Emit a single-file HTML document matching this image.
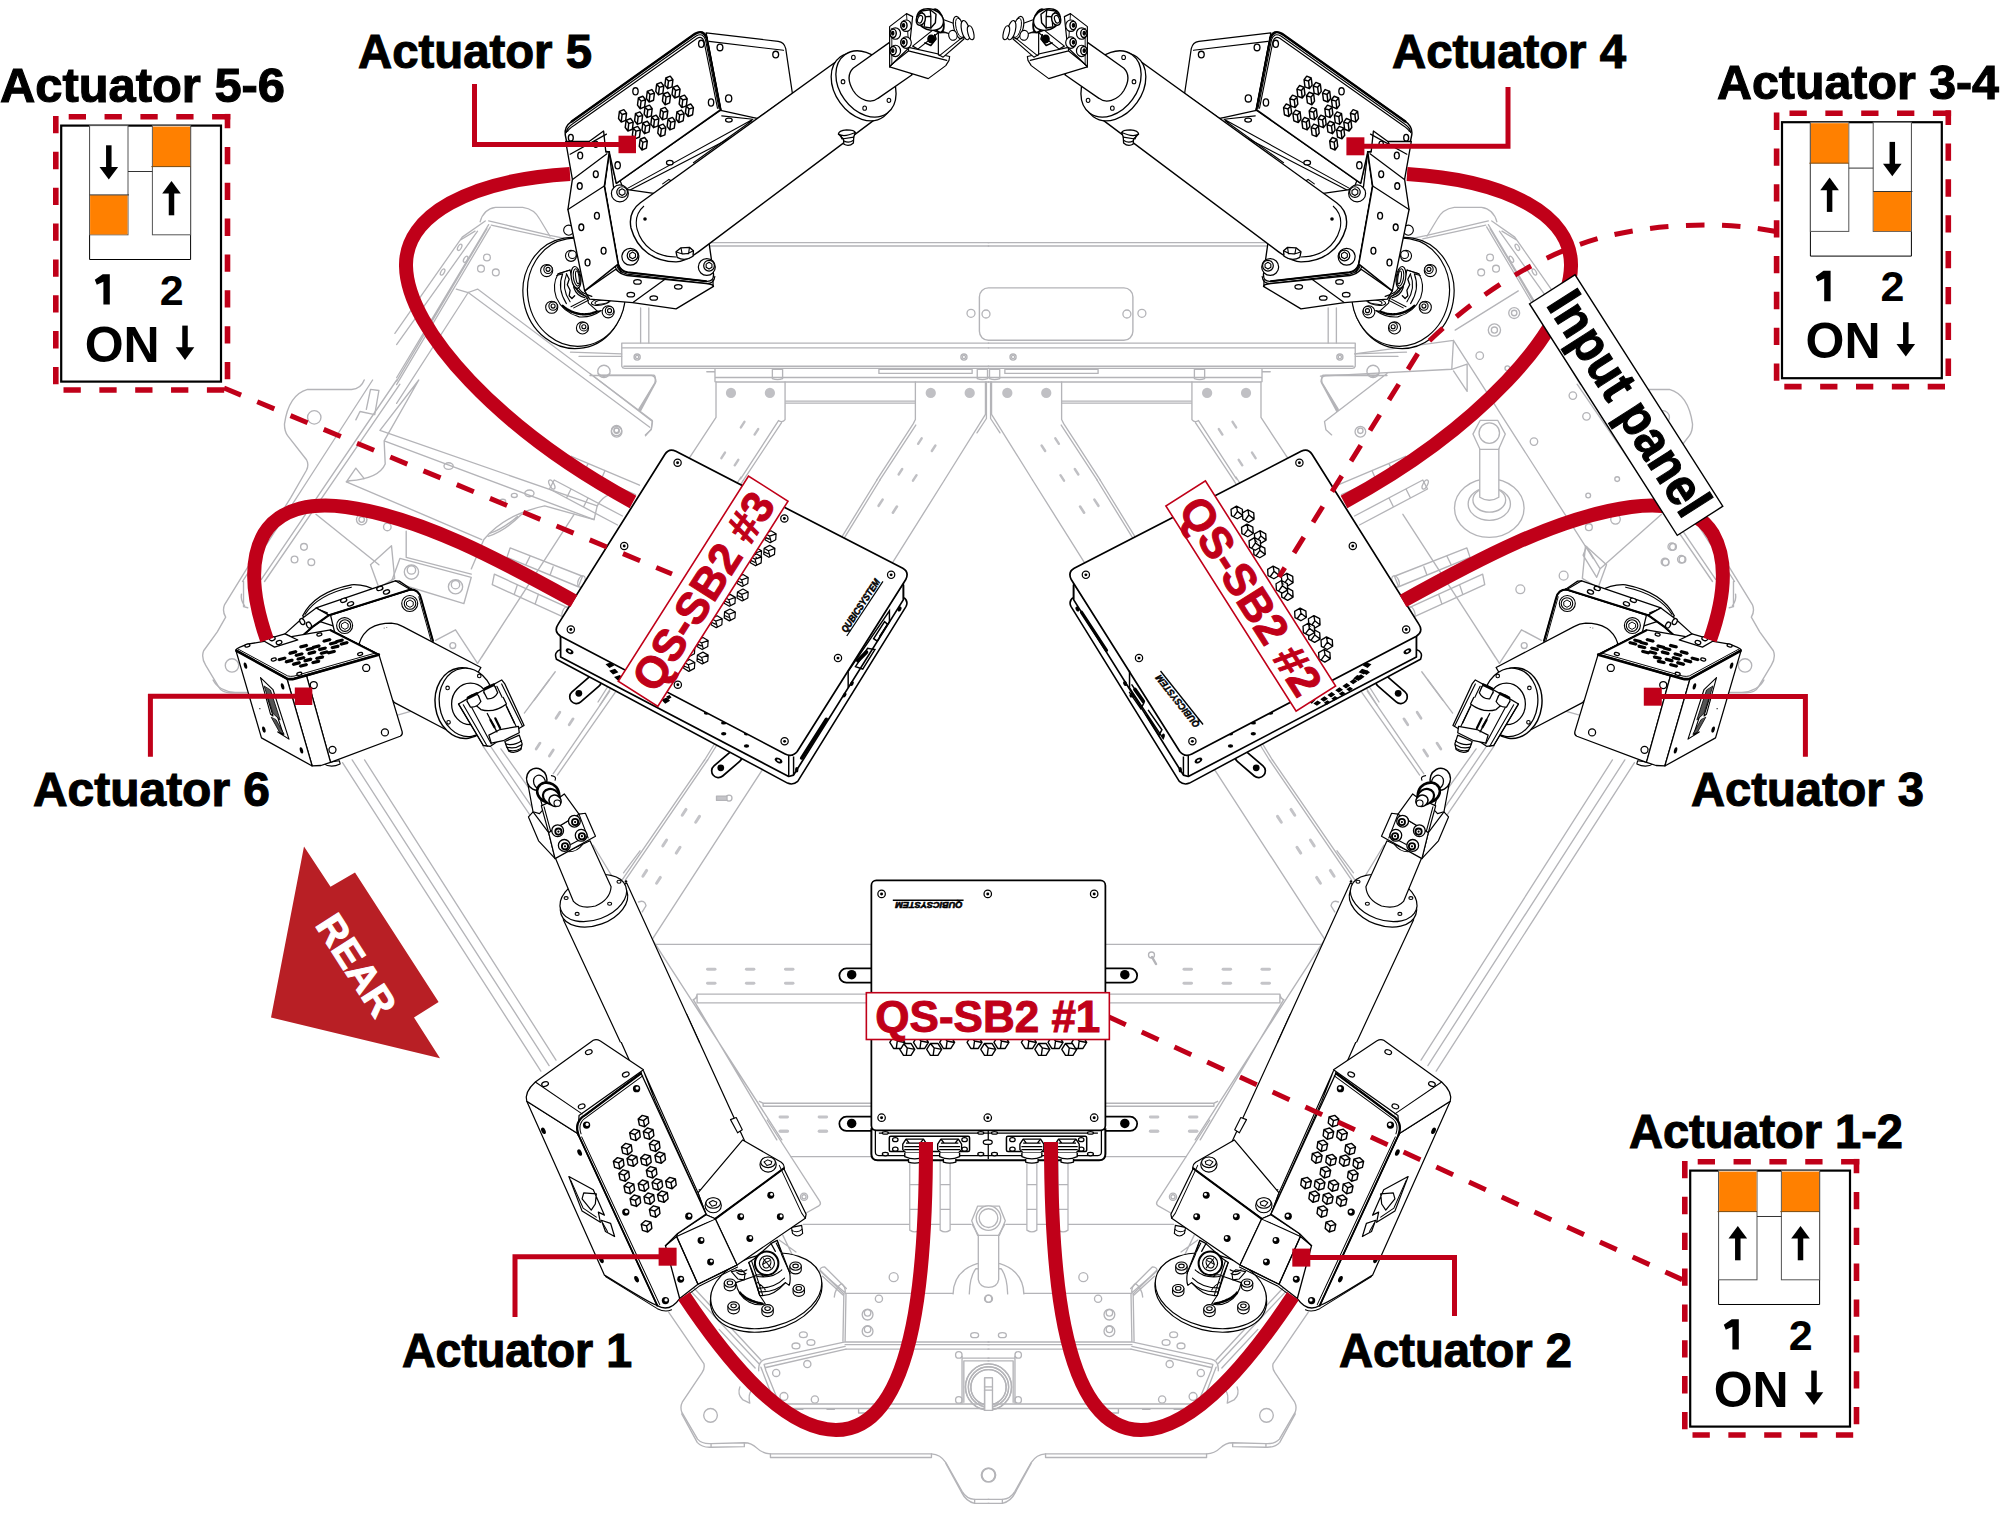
<!DOCTYPE html>
<html><head><meta charset="utf-8"><title>Actuator wiring</title>
<style>
html,body{margin:0;padding:0;background:#fff;}
body{width:2001px;height:1525px;overflow:hidden;}
svg{display:block;}
text{font-family:"Liberation Sans",sans-serif;}
.k{fill:#fff;stroke:#000;stroke-width:1.3;stroke-linejoin:round;stroke-linecap:round;}
.kn{fill:none;stroke:#000;stroke-width:1.2;stroke-linejoin:round;stroke-linecap:round;}
.kt{fill:none;stroke:#000;stroke-width:0.9;stroke-linejoin:round;stroke-linecap:round;}
.kb{fill:#fff;stroke:#000;stroke-width:2;stroke-linejoin:round;}
.g{fill:none;stroke:#b4b4b8;stroke-width:1.4;stroke-linejoin:round;stroke-linecap:round;}
.gf{fill:#fff;stroke:#b4b4b8;stroke-width:1.4;stroke-linejoin:round;stroke-linecap:round;}
.gd{fill:#b9b9bd;stroke:none;}
.cab{fill:none;stroke:#c00019;stroke-width:14;}
.dash{fill:none;stroke:#c00019;stroke-width:5;stroke-dasharray:18.5 17.5;}
.lead{fill:none;stroke:#c00019;stroke-width:5;stroke-linejoin:miter;}
.r{fill:#c00019;}
.lab{font-weight:bold;fill:#000;stroke:#000;stroke-width:1.1;}
.qs{font-weight:bold;fill:#c00019;stroke:#c00019;stroke-width:1;}
</style></head><body>
<svg width="2001" height="1525" viewBox="0 0 2001 1525">
<rect width="2001" height="1525" fill="#fff"/>
<!-- frame -->
<g id="frameL" class="g">
<!-- tile: bottom-left (640,1270) scale 1/5.558 -->
<g transform="translate(640,1270) scale(0.17991)" stroke-width="7.5">
<path d="M160,235 L355,520 Q362,545 345,570 L235,735 Q222,760 232,790 L320,940 Q345,968 395,965 L580,960 Q620,960 650,990 Q680,1020 725,1022 L1620,1022 Q1670,1025 1700,1070 L1790,1230 Q1815,1272 1860,1275 L1940,1275"/>
<path d="M232,800 L318,958 Q345,988 395,985 L580,982 M395,965 V985 M580,960 V982 M725,1022 V1042 H1620 V1022 M1860,1275 V1297 H1940 M1700,1075 L1790,1240 Q1812,1285 1860,1297"/>
<circle cx="392" cy="808" r="38"/><circle cx="1935" cy="1140" r="38"/>
<path d="M285,120 L660,520 M300,100 L672,500 M440,330 L640,545"/>
<path d="M660,560 Q655,505 700,495 L1140,400 L1145,130 H1940 M1133,135 L1128,395 M1140,400 H1940 M1140,415 H1940 M1145,440 H1940"/>
<path d="M690,525 L1140,425 M700,542 L1145,440 M690,525 L700,560 L775,745 H1940 M672,540 L745,730 Q760,755 800,752 M775,770 H1940 M860,775 H905 M1040,775 H1080 M1215,775 V795 H1260"/>
<path d="M1790,480 V740 M1790,490 H1940 M1800,505 H1940 M1800,505 V735"/>
<circle cx="1937" cy="650" r="128"/><circle cx="1937" cy="650" r="112"/><circle cx="1937" cy="652" r="98"/>
<path d="M1915,600 H1958 V780 H1915Z" fill="#fff"/><path d="M1915,650 H1958 M1915,668 H1958"/>
<circle cx="1410" cy="40" r="25"/><ellipse cx="908" cy="360" rx="22" ry="16"/><ellipse cx="867" cy="422" rx="22" ry="16"/><ellipse cx="950" cy="403" rx="22" ry="16"/>
<circle cx="1265" cy="248" r="30"/><circle cx="1265" cy="238" r="18"/><circle cx="1265" cy="340" r="30"/><circle cx="1265" cy="330" r="18"/>
<circle cx="1328" cy="160" r="20"/><circle cx="1935" cy="160" r="20"/><ellipse cx="1860" cy="362" rx="22" ry="14"/>
<circle cx="930" cy="523" r="20"/><circle cx="757" cy="572" r="20"/><circle cx="800" cy="703" r="22"/><circle cx="972" cy="720" r="20"/><circle cx="1772" cy="472" r="18"/><circle cx="1772" cy="722" r="18"/>
<path d="M1000,5 L1145,130 M1015,35 L1130,140 M1080,150 Q1085,100 1120,75 Q1145,95 1140,130"/>
<path d="M555,650 Q540,690 570,720 L610,740 Q600,690 620,670"/>
</g>

<!-- tile: (760,1120) scale 1/8.3375 : beams under box1 -->
<g transform="translate(760,1120) scale(0.11994)" stroke-width="11">
<path d="M255,305 H925 M360,870 H1760"/>
<path d="M60,0 L500,680 Q512,702 490,716 L385,775"/>
<circle cx="367" cy="640" r="30"/><circle cx="367" cy="640" r="17"/>
<path d="M500,1250 L700,1450 M540,1225 L720,1405 M500,1250 Q505,1225 540,1225"/>
<path d="M190,960 L330,1250 M160,1000 L300,1100"/>
</g>
<g transform="translate(760,1120) scale(0.11994)" fill="#c4c4c8" stroke="none"><rect x="160" y="82" width="80" height="22" rx="10"/><rect x="485" y="82" width="80" height="22" rx="10"/></g>

<!-- tile: (580,760) scale 1/4.0143 : diagonal band + horizontal beams left of box1 -->
<g transform="translate(580,760) scale(0.24911)" stroke-width="5.5">
<path d="M170,480 L500,0 M182,482 L512,0 M290,720 L735,35"/>
<path d="M295,740 H1170"/>
<path d="M455,962 Q468,958 470,940 H1150 M470,975 H1150 M470,940 V975"/>
<path d="M290,720 L810,1525 M455,962 L790,1525"/>
<path d="M720,1370 Q733,1376 735,1378 H1170 M735,1390 H1170 M735,1378 V1390"/>
<path d="M235,570 Q260,560 265,585 L250,610"/>

</g>
<g transform="translate(580,760) scale(0.24911)" fill="#c4c4c8" stroke="none">
<rect x="506" y="834" width="42" height="12" rx="6"/><rect x="662" y="834" width="42" height="12" rx="6"/><rect x="819" y="834" width="42" height="12" rx="6"/>
<rect x="506" y="890" width="42" height="12" rx="6"/><rect x="662" y="890" width="42" height="12" rx="6"/><rect x="819" y="890" width="42" height="12" rx="6"/>
<rect x="797" y="1427" width="42" height="12" rx="6"/><rect x="954" y="1427" width="42" height="12" rx="6"/><rect x="797" y="1484" width="42" height="12" rx="6"/><rect x="954" y="1484" width="42" height="12" rx="6"/>
<g transform="rotate(-57 418 210)"><rect x="398" y="204" width="40" height="12" rx="6"/></g><g transform="rotate(-57 472 238)"><rect x="452" y="232" width="40" height="12" rx="6"/></g>
<g transform="rotate(-57 340 333)"><rect x="320" y="327" width="40" height="12" rx="6"/></g><g transform="rotate(-57 394 362)"><rect x="374" y="356" width="40" height="12" rx="6"/></g>
<g transform="rotate(-57 260 455)"><rect x="240" y="449" width="40" height="12" rx="6"/></g><g transform="rotate(-57 315 483)"><rect x="295" y="477" width="40" height="12" rx="6"/></g>
</g>

<!-- tile: (190,380) scale 1/4.764 : left rail region (mirrored part) -->
<g transform="translate(190,380) scale(0.2099)" stroke-width="6.5">
<path d="M830,0 Q815,42 770,45 L560,45 Q470,70 450,210 Q450,245 465,265 L555,380 Q568,402 555,430 L480,560 L245,940 L165,1070 Q152,1100 170,1130 L130,1200 L65,1290 Q52,1322 75,1360 L135,1460 Q152,1492 200,1490 L280,1490"/>
<circle cx="592" cy="178" r="32"/><circle cx="200" cy="1360" r="32"/>
<path d="M985,0 L340,950 M1000,20 L355,960 M870,0 L560,480 L250,960"/>
<path d="M1830,640 L1370,1350 M1590,1010 L1390,1320 M1740,1390 L1640,1525"/>
<path d="M1525,800 L1870,935 L1850,985 L1510,845 Z M1450,925 L1800,1085 L1780,1130 L1440,975 Z M1620,840 L1600,880 M1730,890 L1715,930 M1560,975 L1545,1020 M1660,1020 L1645,1065"/>
<ellipse cx="1865" cy="960" rx="16" ry="28" transform="rotate(20 1865 960)"/><ellipse cx="1790" cy="1108" rx="16" ry="28" transform="rotate(20 1790 1108)"/>
<path d="M1170,1240 L1265,1190 L1370,1350"/>
<circle cx="543" cy="795" r="16"/><circle cx="498" cy="855" r="16"/><circle cx="578" cy="868" r="16"/>
<circle cx="1252" cy="1265" r="14"/>
<path d="M255,960 V1080 L275,1085 M245,1020 Q240,1050 260,1075"/>
<path d="M860,880 L960,790 L975,945 L900,990 Z M860,880 L900,990"/>
</g>

<!-- tile: (590,230) scale 1/4.8805 : top beam & hanging plates -->
<g transform="translate(590,230) scale(0.2049)" stroke-width="6.5">
<path d="M580,62 H1946 M580,78 H1946"/>
<path d="M247,380 V552 M287,380 V552"/>
<path d="M1946,552 H155 V665 Q158,675 170,675 H1946 M155,575 H1946 M165,665 H1946"/>
<circle cx="230" cy="620" r="15"/><circle cx="1825" cy="620" r="15"/><circle cx="230" cy="620" r="8"/><circle cx="1825" cy="620" r="8"/>
<path d="M610,678 V740 M570,692 H610 M615,720 H1946 M615,742 H1946"/>
<path d="M0,710 H300 Q320,712 322,740 L240,880 M0,700 L305,935 L298,975 L270,1000 M320,745 L245,885"/>
<path d="M615,742 V915 L490,1105 M952,742 V925 Q940,942 920,930 L735,1215 M935,940 L748,1222"/>
<path d="M955,835 H1588 M955,845 H1588"/>
<path d="M1588,742 V925 L1578,945 L1400,1220 M1590,952 L1415,1220 M1930,742 V900 L1730,1220 M1955,742 V920 L2001,990"/>
<path d="M1410,680 H1865 V700 H1410Z"/>
<circle cx="68" cy="690" r="30"/><path d="M40,700 Q68,730 96,700"/>
<path d="M890,680 H940 V725 Q915,735 890,725Z M1890,680 H1940 V725 Q1915,735 1890,725Z"/>
<circle cx="130" cy="985" r="26"/><circle cx="130" cy="980" r="13"/>
</g>
<g transform="translate(590,230) scale(0.2049)" fill="#c0c0c4" stroke="none">
<circle cx="688" cy="795" r="25"/><circle cx="878" cy="795" r="25"/><circle cx="1663" cy="795" r="25"/><circle cx="1853" cy="795" r="25"/>
<g transform="rotate(-57 745 950)"><rect x="723" y="944" width="44" height="12" rx="6"/></g><g transform="rotate(-57 812 985)"><rect x="790" y="979" width="44" height="12" rx="6"/></g>
<g transform="rotate(-57 650 1100)"><rect x="628" y="1094" width="44" height="12" rx="6"/></g><g transform="rotate(-57 715 1135)"><rect x="693" y="1129" width="44" height="12" rx="6"/></g>
<g transform="rotate(-57 1610 1030)"><rect x="1588" y="1024" width="44" height="12" rx="6"/></g><g transform="rotate(-57 1677 1065)"><rect x="1655" y="1059" width="44" height="12" rx="6"/></g>
<g transform="rotate(-57 1515 1180)"><rect x="1493" y="1174" width="44" height="12" rx="6"/></g><g transform="rotate(-57 1585 1210)"><rect x="1563" y="1204" width="44" height="12" rx="6"/></g>
</g>

<!-- tile: (180,680) scale 1/3.6304 : lower-left rails -->
<g transform="translate(180,680) scale(0.27545)" stroke-width="4.8">
<path d="M590,300 L1310,1420 M625,290 L1340,1400 M670,290 L1365,1380"/>
<path d="M1100,240 L1270,490 M1130,245 L1290,480 M1165,250 L1300,440"/>
<path d="M1250,120 L1340,0 M1355,340 L1560,40 M1370,345 L1580,45"/>
<path d="M1500,600 L1670,880 M1610,700 L1670,620"/>
<path d="M780,130 L850,110 M120,0 Q140,40 200,45 L250,45"/>
</g>
<g transform="translate(180,680) scale(0.27545)" fill="#c0c0c4" stroke="none">
<g transform="rotate(-57 1372 128)"><rect x="1354" y="123" width="36" height="10" rx="5"/></g><g transform="rotate(-57 1420 152)"><rect x="1402" y="147" width="36" height="10" rx="5"/></g>
<g transform="rotate(-57 1300 240)"><rect x="1282" y="235" width="36" height="10" rx="5"/></g><g transform="rotate(-57 1348 265)"><rect x="1330" y="260" width="36" height="10" rx="5"/></g>
</g>

<!-- band continuations between top plates and lower area (px coords) -->
<g stroke-width="1.35">
<path d="M876.9,480 L704.6,760 M880,480 L707.6,760 M944.5,480 L763,768.7"/>
<path d="M690.4,456.4 L560,660 M743.3,480.4 L600,705 M741,477 L598,702"/>
</g>
<g fill="#c0c0c4" stroke="none"><g transform="rotate(-57 880.6 502.7)"><rect x="875.6" y="501.4" width="10" height="2.6" rx="1.3"/></g><g transform="rotate(-57 894.9 509.6)"><rect x="889.9" y="508.3" width="10" height="2.6" rx="1.3"/></g></g>

<!-- tile: (400,180) scale 1/5.8656 : top-left corner near actuator 5 (mirrored part) -->
<g transform="translate(400,180) scale(0.17049)" stroke-width="7.5">
<path d="M470,245 Q490,170 560,160 L720,160 Q790,170 820,230 L880,330"/>
<path d="M520,240 L880,325 L1000,350 M535,265 L905,345"/>
<path d="M500,240 L365,335 L-30,900 M520,262 L-20,1160 M530,275 L-20,1200 M510,285 L-20,1180 M455,300 L-20,965 M440,300 L355,352"/>
<circle cx="510" cy="455" r="20"/><circle cx="475" cy="520" r="20"/><circle cx="562" cy="542" r="20"/>
<path d="M1000,1010 L1300,1020 M1050,1035 H1300"/>
<path d="M1165,1145 H1490 Q1502,1150 1495,1190 L1400,1345"/>
<ellipse cx="350" cy="395" rx="10" ry="20" transform="rotate(30 350 395)"/><ellipse cx="385" cy="465" rx="10" ry="20" transform="rotate(30 385 465)"/><ellipse cx="250" cy="540" rx="10" ry="20" transform="rotate(30 250 540)"/>
</g>

<!-- cable stubs near cable A end (px coords) -->
<g stroke-width="1.35">
<path d="M639.5,485.2 L571.3,456.3 L567.5,465.5 L635.5,494.5 M622.4,516 L554.2,480 L549.5,489 L617.5,525 M605,470.5 L601,480 M588,463.5 L584,473 M588,498 L583.5,507 M571,489 L566.5,498"/>
<ellipse cx="569.4" cy="461" rx="2.2" ry="5" transform="rotate(-23 569.4 461)"/><ellipse cx="551.8" cy="484.5" rx="2.2" ry="5" transform="rotate(-28 551.8 484.5)"/>
</g>

</g>
<use href="#frameL" transform="translate(1977 0) scale(-1 1)"/>
<g class="g">
<!-- center leveling foot, tile (760,1120) scale 1/8.3375; center x z=1905 -->
<g transform="translate(760,1120) scale(0.11994)" stroke-width="11" fill="#fff">
<path d="M1610,1450 Q1615,1260 1810,1198 H2000 Q2195,1260 2200,1450"/>
<path d="M1745,1450 Q1750,1300 1800,1240 H2010 Q2060,1300 2065,1450"/>
<path d="M1820,950 V1330 Q1830,1392 1905,1395 Q1980,1392 1990,1330 V950Z"/>
<path d="M1765,840 L1815,718 L1995,718 L2045,840 L1995,962 L1815,962Z"/>
<path d="M1770,870 L1820,960 M2040,870 L1990,960" fill="none"/>
<circle cx="1905" cy="818" r="102"/><circle cx="1905" cy="818" r="78"/>
</g>

<!-- top center rounded rect plate (not symmetric) -->
<rect x="979.4" y="287.9" width="153.5" height="52.4" rx="9" stroke-width="1.4"/>
<circle cx="971" cy="313.3" r="4" stroke-width="1.3"/><circle cx="986" cy="314" r="4" stroke-width="1.3"/><circle cx="1126.9" cy="314" r="4" stroke-width="1.3"/><circle cx="1141.9" cy="313.3" r="4" stroke-width="1.3"/>

<!-- LEFT ONLY: bracket box etc. tile (190,380) scale 1/4.764 -->
<g transform="translate(190,380) scale(0.2099)" stroke-width="6.5">
<path d="M1090,0 L905,240 L1940,600 L1925,665 L925,290 Z M925,290 L930,400 Q900,470 760,480 L745,485 L790,420 L830,470"/>
<path d="M745,485 L1390,760 M1940,600 Q1960,560 2001,545 M1925,665 L1690,600 Q1500,640 1400,760 L1340,900"/>
<path d="M1580,640 Q1500,720 1420,745 M1560,650 Q1490,710 1430,730"/>
<path d="M600,640 L900,880 M1030,720 V845 M1000,850 L1340,940 L1305,1065 L960,960 Z M1030,845 L1340,925"/>
<circle cx="1055" cy="915" r="34"/><circle cx="1055" cy="905" r="20"/><circle cx="1265" cy="985" r="34"/><circle cx="1265" cy="975" r="20"/>
<circle cx="818" cy="665" r="25"/><circle cx="818" cy="665" r="13"/><circle cx="940" cy="700" r="18"/>
<ellipse cx="1232" cy="410" rx="22" ry="16"/><ellipse cx="1617" cy="540" rx="22" ry="16"/><ellipse cx="1545" cy="550" rx="14" ry="10"/><ellipse cx="1490" cy="578" rx="14" ry="10"/>
<path d="M790,190 L810,150 L880,165 L900,50 L860,45 L840,140"/>
</g>
<!-- LEFT ONLY: tile (400,180) scale 1/5.8656 -->
<g transform="translate(400,180) scale(0.17049)" stroke-width="7.5">
<path d="M455,640 L1480,1410 L1475,1460 L1440,1500 M400,660 L1465,1450 M400,660 L-20,1310 M455,640 L400,660 M330,640 L400,660"/>
<circle cx="1270" cy="1470" r="30"/><circle cx="1270" cy="1468" r="14"/>
</g>
<!-- RIGHT ONLY: tile (1300,180) scale 1/2.932 : foot + plate lines -->
<g transform="translate(1300,180) scale(0.34106)" stroke-width="3.9">
<path d="M450,470 L860,1110 M455,440 L640,325 M60,575 L445,555 L450,470 L160,510 M445,555 L490,540 L490,620 L450,560"/>
<path d="M840,1075 L880,1140 L870,1165 L830,1100Z M880,1140 L1060,980"/>
<g fill="#fff">
<ellipse cx="555" cy="962" rx="102" ry="86"/><ellipse cx="555" cy="950" rx="62" ry="48"/><ellipse cx="555" cy="938" rx="48" ry="36"/>
<path d="M527,785 V930 Q555,948 583,930 V785Z"/>
<path d="M507,745 L528,705 L580,705 L602,745 L582,790 L528,790Z"/><circle cx="555" cy="742" r="30"/>
</g>
<circle cx="628" cy="390" r="16"/><circle cx="628" cy="390" r="8"/><circle cx="570" cy="440" r="18"/><circle cx="570" cy="440" r="9"/><circle cx="527" cy="515" r="11"/><circle cx="800" cy="632" r="11"/><circle cx="840" cy="693" r="11"/><circle cx="686" cy="767" r="11"/>
<circle cx="925" cy="995" r="14"/><circle cx="847" cy="1018" r="10"/><circle cx="1090" cy="1075" r="11"/><circle cx="1070" cy="1120" r="11"/><circle cx="1118" cy="1112" r="11"/><circle cx="773" cy="1160" r="13"/><circle cx="646" cy="1200" r="13"/>
<circle cx="930" cy="877" r="7"/><circle cx="845" cy="925" r="7"/><circle cx="608" cy="552" r="7"/>
</g>
<!-- keyholes -->
<g stroke-width="1.3"><circle cx="729" cy="798.1" r="3"/><path d="M716.5,796.1 H727 V800.4 H716.5Z" fill="#c4c4c8"/>
<circle cx="1151.5" cy="955" r="3"/><path d="M1152,957 L1156,964" stroke-width="2.5"/></g>

</g>

<!-- boxes -->
<g id="box3">
<g transform="translate(540,430) scale(0.24266)" style="vector-effect:non-scaling-stroke">
<!-- mounting ears -->
<g fill="none" stroke-linecap="round">
<path d="M225,1035 L150,1100" stroke="#000" stroke-width="62"/><path d="M225,1035 L150,1100" stroke="#fff" stroke-width="48"/>
<path d="M805,1345 L735,1405" stroke="#000" stroke-width="62"/><path d="M805,1345 L735,1405" stroke="#fff" stroke-width="48"/>
</g>
<circle cx="160" cy="1085" r="14" fill="#000"/><circle cx="745" cy="1392" r="14" fill="#000"/>
<!-- flange / base plate -->
<path d="M85,905 Q55,915 68,945 L1020,1455 Q1042,1465 1062,1448 L1508,728 Q1520,705 1498,690 L1498,640 L85,850 Z" fill="#fff" stroke="#000" stroke-width="6.5" stroke-linejoin="round"/>
<!-- walls -->
<path d="M85,845 L85,935 L1025,1428 L1045,1422 L1497,700 L1497,630 L1040,1340 Z" fill="#fff" stroke="#000" stroke-width="7" stroke-linejoin="round"/>
<path d="M1025,1340 V1428 M1045,1345 V1422" fill="none" stroke="#000" stroke-width="6"/>
<!-- side details, left wall -->
<g fill="#000">
<ellipse cx="122" cy="912" rx="17" ry="10" transform="rotate(27 122 912)"/><ellipse cx="983" cy="1362" rx="17" ry="10" transform="rotate(27 983 1362)"/>
<ellipse cx="686" cy="1166" rx="11" ry="7"/><ellipse cx="757" cy="1207" rx="11" ry="7"/><ellipse cx="757" cy="1252" rx="11" ry="7"/><ellipse cx="851" cy="1252" rx="11" ry="7"/><ellipse cx="851" cy="1302" rx="11" ry="7"/>
<path d="M270,965 l22,-8 l14,14 l-20,10z M285,992 l24,-8 l14,14 l-22,10z M305,1018 l24,-8 l16,14 l-22,10z M500,1112 l22,-10 l14,14 l-20,12z M520,1098 l14,-6 l8,10 l-12,8z"/>
</g>
<ellipse cx="122" cy="912" rx="7" ry="4" fill="#fff" transform="rotate(27 122 912)"/><ellipse cx="983" cy="1362" rx="7" ry="4" fill="#fff" transform="rotate(27 983 1362)"/>
<g fill="#000"><ellipse cx="1058" cy="1400" rx="7" ry="11"/><ellipse cx="1255" cy="1092" rx="7" ry="11" transform="rotate(30 1255 1092)"/><ellipse cx="1285" cy="1045" rx="7" ry="11" transform="rotate(30 1285 1045)"/><ellipse cx="1482" cy="738" rx="7" ry="11" transform="rotate(30 1482 738)"/></g>
<!-- top plate -->
<path d="M75,800 L515,100 Q532,73 560,88 L1495,570 Q1522,585 1508,615 L1060,1325 Q1040,1350 1010,1335 L85,850 Q55,830 75,800 Z" fill="#fff" stroke="#000" stroke-width="7" stroke-linejoin="round"/>
<!-- screws -->
<g fill="#fff" stroke="#000" stroke-width="5"><circle cx="567" cy="135" r="15"/><circle cx="1007" cy="365" r="15"/><circle cx="1447" cy="597" r="15"/><circle cx="347" cy="478" r="15"/><circle cx="1228" cy="940" r="15"/><circle cx="127" cy="822" r="15"/><circle cx="568" cy="1050" r="15"/><circle cx="1008" cy="1283" r="15"/></g>
<g fill="#000"><circle cx="567" cy="135" r="6"/><circle cx="1007" cy="365" r="6"/><circle cx="1447" cy="597" r="6"/><circle cx="347" cy="478" r="6"/><circle cx="1228" cy="940" r="6"/><circle cx="127" cy="822" r="6"/><circle cx="568" cy="1050" r="6"/><circle cx="1008" cy="1283" r="6"/></g>
</g>
</g>
<use href="#box3" transform="translate(1977 0) scale(-1 1)"/>
<g transform="translate(540,430) scale(0.24266)">
<!-- right wall details -->
<g fill="none" stroke="#000" stroke-width="6" stroke-linecap="round">
<path d="M1078,1352 L1180,1192" stroke-width="14"/>
<path d="M1270,1060 V995 L1440,745 V790 L1400,850"/>
<path d="M1300,975 L1350,900 L1380,905 L1330,985 Z M1375,860 L1420,790 L1432,800 L1390,870Z"/>
<path d="M1310,950 L1345,915" stroke-width="16"/>
</g>
<!-- hex vents -->
<g id="hx3" fill="#fff" stroke="#000" stroke-width="5" stroke-linejoin="round">
<path id="hxa" d="M-26,0 L-13,-21 L13,-21 L26,0 L13,21 L-13,21Z M-13,-21 L-2,-4 L26,0 M-2,-4 L-8,21 M-20,-8 L-8,8" transform="translate(950,440) rotate(-28)"/>
<use href="#hxa" x="0" y="0" transform="translate(-5,60)"/>
<use href="#hxa" transform="translate(-60,70)"/><use href="#hxa" transform="translate(-60,95)"/>
<use href="#hxa" transform="translate(-115,180)"/><use href="#hxa" transform="translate(-115,240)"/>
<use href="#hxa" transform="translate(-168,262)"/><use href="#hxa" transform="translate(-168,322)"/>
<use href="#hxa" transform="translate(-222,350)"/><use href="#hxa" transform="translate(-280,440)"/><use href="#hxa" transform="translate(-280,500)"/>
<use href="#hxa" transform="translate(-335,530)"/><use href="#hxa" transform="translate(-335,470)"/>
</g>
<!-- logo -->
<g transform="translate(1262,838) rotate(-56.5)"><text x="0" y="0" font-size="40" font-weight="bold" font-style="italic" fill="#000" stroke="#000" stroke-width="2.2" textLength="255" lengthAdjust="spacingAndGlyphs">QUBICSYSTEM</text><path d="M-8,8 H262" stroke="#000" stroke-width="5"/></g>
</g>
<!-- box #2 extras: zoom (1000,400) scale 1/3.335 -->
<g transform="translate(1000,400) scale(0.29985)">
<g fill="#fff" stroke="#000" stroke-width="4.5" stroke-linejoin="round">
<path id="hxc" d="M-22,0 L-11,-18 L11,-18 L22,0 L11,18 L-11,18Z M-11,-18 L0,-4 L22,0 M0,-4 L-3,18" transform="translate(790,375) rotate(28)"/>
<use href="#hxc" transform="translate(38,12)"/><use href="#hxc" transform="translate(35,60)"/><use href="#hxc" transform="translate(78,82)"/>
<use href="#hxc" transform="translate(75,130)"/><use href="#hxc" transform="translate(60,105)"/>
<use href="#hxc" transform="translate(122,200)"/><use href="#hxc" transform="translate(168,224)"/><use href="#hxc" transform="translate(168,272)"/><use href="#hxc" transform="translate(150,248)"/>
<use href="#hxc" transform="translate(212,340)"/><use href="#hxc" transform="translate(258,365)"/><use href="#hxc" transform="translate(258,412)"/><use href="#hxc" transform="translate(300,436)"/><use href="#hxc" transform="translate(292,478)"/><use href="#hxc" transform="translate(240,390)"/>
</g>
<g transform="translate(668,1082) rotate(231.5)"><text x="0" y="0" font-size="32" font-weight="bold" font-style="italic" fill="#000" stroke="#000" stroke-width="1.5" textLength="215" lengthAdjust="spacingAndGlyphs">QUBICSYSTEM</text><path d="M-6,7 H222" stroke="#000" stroke-width="4.5"/></g>
<g fill="none" stroke="#000" stroke-width="5" stroke-linecap="round">
<path d="M272,708 L355,835" stroke-width="11"/>
<path d="M432,905 V960 L545,1130 M440,950 L480,1010 L470,1030 L432,975 M495,1035 L540,1100 L530,1118 L488,1052"/>
<path d="M450,965 L478,1005" stroke-width="12"/>
</g>
<g fill="#000">
<path d="M1045,1012 l14,-10 l12,8 l-14,10z M1068,998 l14,-10 l12,8 l-14,10z M1092,984 l14,-10 l12,8 l-14,10z M1118,968 l14,-10 l12,8 l-14,10z M1142,954 l14,-10 l12,8 l-14,10z M1166,940 l14,-10 l12,8 l-14,10z M1190,925 l14,-10 l12,8 l-14,10z M1212,910 l12,-9 l10,7 l-12,9z M1080,1010 l12,-9 l10,7 l-12,9z M1105,996 l12,-9 l10,7 l-12,9z M1130,980 l12,-9 l10,7 l-12,9z M1155,965 l12,-9 l10,7 l-12,9z"/>
<ellipse cx="417" cy="945" rx="5" ry="8"/><ellipse cx="437" cy="985" rx="5" ry="8"/><ellipse cx="545" cy="1120" rx="5" ry="8"/>
</g>
</g>
<g id="box1" transform="translate(830,870) scale(0.24922)">
<!-- gray cable stubs -->
<g fill="#fff" stroke="#b4b4b8" stroke-width="5">
<path d="M320,1160 V1445 q20,14 40,0 V1160z M442,1160 V1445 q20,14 40,0 V1160z M790,1160 V1445 q20,14 40,0 V1160z M915,1160 V1445 q20,14 40,0 V1160z"/>
<path d="M320,1262 H360 M442,1262 H482 M790,1262 H830 M915,1262 H955 M320,1362 H360 M442,1362 H482 M790,1362 H830 M915,1362 H955" fill="none"/>
</g>
<!-- ears -->
<g fill="#fff" stroke="#000" stroke-width="7">
<path d="M170,395 H66 a28,28 0 0 0 0,57 H170z M170,990 H66 a28,28 0 0 0 0,57 H170z M1100,395 H1204 a28,28 0 0 1 0,57 H1100z M1100,990 H1204 a28,28 0 0 1 0,57 H1100z"/>
</g>
<g fill="#000"><circle cx="87" cy="420" r="19"/><circle cx="87" cy="1017" r="19"/><circle cx="1183" cy="420" r="19"/><circle cx="1183" cy="1017" r="19"/></g>
<!-- bottom connector panel -->
<path d="M166,1040 V1140 q0,25 25,25 H1080 q25,0 25,-25 V1040z" fill="#fff" stroke="#000" stroke-width="8"/>
<path d="M182,1045 V1132 q0,14 14,14 H1075 q14,0 14,-14 V1045 M196,1056 H1075 M635,1045 V1160" fill="none" stroke="#000" stroke-width="5"/>
<g fill="#fff" stroke="#000" stroke-width="6"><rect x="238" y="1068" width="322" height="62" rx="6"/><rect x="708" y="1068" width="322" height="62" rx="6"/></g>
<g fill="#fff" stroke="#000" stroke-width="5">
<ellipse cx="262" cy="1082" rx="11" ry="8"/><ellipse cx="540" cy="1082" rx="11" ry="8"/><ellipse cx="262" cy="1120" rx="11" ry="8"/><ellipse cx="540" cy="1120" rx="11" ry="8"/>
<ellipse cx="732" cy="1082" rx="11" ry="8"/><ellipse cx="1008" cy="1082" rx="11" ry="8"/><ellipse cx="732" cy="1120" rx="11" ry="8"/><ellipse cx="1008" cy="1120" rx="11" ry="8"/>
<ellipse cx="222" cy="1140" rx="12" ry="7"/><ellipse cx="605" cy="1140" rx="12" ry="7"/><ellipse cx="660" cy="1140" rx="12" ry="7"/><ellipse cx="1045" cy="1140" rx="12" ry="7"/>
<ellipse cx="222" cy="1055" rx="12" ry="5"/><ellipse cx="605" cy="1055" rx="12" ry="5"/><ellipse cx="660" cy="1055" rx="12" ry="5"/><ellipse cx="1045" cy="1055" rx="12" ry="5"/>
<ellipse cx="633" cy="1092" rx="18" ry="9"/>
</g>
<!-- glands -->
<g id="gl" fill="#fff" stroke="#000" stroke-width="5.5" stroke-linejoin="round">
<path d="M292,1100 L305,1080 H375 L388,1100 V1122 L375,1135 H305 L292,1122z"/>
<path d="M305,1096 H375 M305,1080 L318,1096 M375,1080 L362,1096 M298,1110 H382 M298,1122 H382" fill="none"/>
<path d="M300,1135 V1150 q40,18 80,0 V1135 M315,1160 V1172 q25,8 50,0 V1160" />
</g>
<use href="#gl" transform="translate(140,0)"/><use href="#gl" transform="translate(470,0)"/><use href="#gl" transform="translate(612,0)"/>
<!-- main plate -->
<rect x="166" y="42" width="939" height="1003" rx="20" fill="#fff" stroke="#000" stroke-width="7"/>
<g fill="#fff" stroke="#000" stroke-width="5"><circle cx="207" cy="96" r="15"/><circle cx="633" cy="96" r="15"/><circle cx="1060" cy="96" r="15"/><circle cx="207" cy="994" r="15"/><circle cx="633" cy="994" r="15"/><circle cx="1060" cy="994" r="15"/></g>
<g fill="#000"><circle cx="207" cy="96" r="6"/><circle cx="633" cy="96" r="6"/><circle cx="1060" cy="96" r="6"/><circle cx="207" cy="994" r="6"/><circle cx="633" cy="994" r="6"/><circle cx="1060" cy="994" r="6"/></g>
<!-- logo (upside-down) -->
<g transform="translate(532,128) rotate(180)"><text x="0" y="0" font-size="40" font-weight="bold" font-style="italic" fill="#000" stroke="#000" stroke-width="2.5" textLength="270" lengthAdjust="spacingAndGlyphs">QUBICSYSTEM</text><path d="M-4,7 H280" stroke="#000" stroke-width="6"/></g>
<!-- hex vents -->
<g fill="#fff" stroke="#000" stroke-width="5.5" stroke-linejoin="round">
<path id="hxb" d="M-30,0 L-15,-24 L15,-24 L30,0 L15,24 L-15,24Z M-15,-24 L0,-6 L30,0 M0,-6 L-4,24" transform="translate(310,720)"/>
<use href="#hxb" transform="translate(-40,-28)"/><use href="#hxb" transform="translate(55,-28)"/><use href="#hxb" transform="translate(108,0)"/><use href="#hxb" transform="translate(160,-28)"/>
<use href="#hxb" transform="translate(270,-28)"/><use href="#hxb" transform="translate(325,0)"/><use href="#hxb" transform="translate(378,-28)"/>
<use href="#hxb" transform="translate(488,-28)"/><use href="#hxb" transform="translate(542,0)"/><use href="#hxb" transform="translate(595,-28)"/><use href="#hxb" transform="translate(650,0)"/><use href="#hxb" transform="translate(690,-28)"/>
</g>
</g>

<!-- act_top -->
<g id="act5">
<!-- base flange disc + hub: zoom (515,215) scale 1/10.893 -->
<g transform="translate(515,215) scale(0.0918)" stroke-linejoin="round" stroke-linecap="round" fill="#fff" stroke="#000" stroke-width="13">
<ellipse cx="640" cy="850" rx="552" ry="607" transform="rotate(-10 640 850)"/>
<ellipse cx="668" cy="842" rx="530" ry="590" transform="rotate(-10 668 842)"/>
<g stroke-width="12">
<circle cx="345" cy="605" r="66"/><circle cx="400" cy="1005" r="66"/><circle cx="735" cy="1230" r="66"/><circle cx="1015" cy="1055" r="66"/><circle cx="610" cy="445" r="60"/><circle cx="585" cy="165" r="55"/>
<circle cx="360" cy="592" r="46"/><circle cx="415" cy="992" r="46"/><circle cx="750" cy="1217" r="46"/><circle cx="1030" cy="1042" r="46"/><circle cx="625" cy="432" r="42"/>
<circle cx="360" cy="592" r="22"/><circle cx="415" cy="992" r="22"/><circle cx="750" cy="1217" r="22"/><circle cx="1030" cy="1042" r="22"/>
</g>
<path d="M470,640 Q400,760 450,900 Q520,1060 700,1110 Q830,1120 940,1040 L900,1050 L800,960 L790,905 L640,780 L600,600 Z" stroke-width="12"/>
<path d="M520,990 Q620,1080 760,1082 Q840,1078 890,1050" fill="none" stroke-width="26" stroke-dasharray="22 12"/>
<path d="M520,640 Q455,800 560,965 M560,650 Q500,800 600,945 M470,640 L600,600 M455,660 L520,640" fill="none" stroke-width="12"/>
<path d="M560,640 L590,700 L570,760 L600,820 L590,880 L620,910 L650,880" fill="none" stroke-width="14"/>
<ellipse cx="665" cy="680" rx="52" ry="120" transform="rotate(-8 665 680)" stroke-width="13"/><ellipse cx="672" cy="680" rx="36" ry="95" transform="rotate(-8 672 680)" stroke-width="12"/><ellipse cx="680" cy="680" rx="18" ry="70" transform="rotate(-8 680 680)" stroke-width="12"/>
<path d="M640,790 Q670,880 760,900 M665,800 Q700,870 780,885 M690,790 Q720,850 800,870" fill="none" stroke-width="13"/>
<path d="M610,1000 L790,905 M640,1012 L800,928" fill="none" stroke-width="11"/>
<ellipse cx="935" cy="945" rx="105" ry="36" transform="rotate(-10 935 945)" stroke-width="12"/><ellipse cx="945" cy="948" rx="75" ry="22" transform="rotate(-10 945 948)" stroke-width="11"/>
</g>
<!-- ===== body, z1 coords: offset (520,20) scale 1/4.4857 ===== -->
<g transform="translate(520,20) scale(0.22293)" stroke-linejoin="round" stroke-linecap="round">
<!-- motor housing: side cap -->
<path d="M835,58 L1158,96 Q1185,100 1192,128 L1222,330 L1065,442 L905,425 Z" fill="#fff" stroke="#000" stroke-width="5.5"/>
<path d="M848,96 L1182,136" fill="none" stroke="#000" stroke-width="5"/>
<g fill="#fff" stroke="#000" stroke-width="6"><ellipse cx="897" cy="123" rx="13" ry="15"/><ellipse cx="1147" cy="155" rx="13" ry="15"/><ellipse cx="936" cy="352" rx="14" ry="16"/></g>
<!-- motor bottom face -->
<path d="M900,405 L1068,442 L1000,500 L470,775 L400,592 L432,732 Z" fill="#fff" stroke="#000" stroke-width="5.5"/>
<path d="M905,430 L1045,445 L470,762 M778,640 L1040,452 M640,735 L668,715 L680,722 L775,655" fill="none" stroke="#000" stroke-width="5"/>
<g fill="#fff" stroke="#000" stroke-width="5.5"><ellipse cx="672" cy="640" rx="15" ry="10"/><ellipse cx="937" cy="449" rx="15" ry="9"/></g>
<!-- motor vent face -->
<path d="M212,560 L203,515 Q198,478 232,455 L785,62 Q822,40 838,82 L900,402 L432,733 L400,592 Z" fill="#fff" stroke="#000" stroke-width="6.5"/>
<path d="M208,505 Q208,484 238,464 L790,72 Q820,55 832,88 L893,398 M214,500 Q216,490 244,472 L795,82 Q815,70 825,94 L886,396" fill="none" stroke="#000" stroke-width="5"/>
<path d="M232,455 L785,62 Q822,40 838,82" fill="none" stroke="#000" stroke-width="11"/>
<path d="M838,82 L900,402" fill="none" stroke="#000" stroke-width="9"/>
<g fill="#fff" stroke="#000" stroke-width="6"><ellipse cx="518" cy="320" rx="12" ry="16"/><ellipse cx="813" cy="107" rx="12" ry="16"/><ellipse cx="857" cy="370" rx="12" ry="16"/><ellipse cx="228" cy="528" rx="11" ry="15"/><ellipse cx="438" cy="652" rx="12" ry="16"/></g>
<!-- vent hex cubes -->
<g fill="#fff" stroke="#000" stroke-width="6.5">
<path id="vh" d="M-14,-20 L6,-28 L18,-12 L14,20 L-6,28 L-18,12Z M-14,-20 L-2,-6 L18,-12 M-2,-6 L-6,28" transform="translate(668,280)"/>
<use href="#vh" transform="translate(-41,28)"/><use href="#vh" transform="translate(32,42)"/><use href="#vh" transform="translate(-83,60)"/><use href="#vh" transform="translate(-11,72)"/><use href="#vh" transform="translate(64,85)"/>
<use href="#vh" transform="translate(-123,90)"/><use href="#vh" transform="translate(92,125)"/><use href="#vh" transform="translate(-93,130)"/><use href="#vh" transform="translate(-23,140)"/><use href="#vh" transform="translate(50,152)"/>
<use href="#vh" transform="translate(-208,150)"/><use href="#vh" transform="translate(-136,160)"/><use href="#vh" transform="translate(-63,175)"/><use href="#vh" transform="translate(10,185)"/>
<use href="#vh" transform="translate(-178,190)"/><use href="#vh" transform="translate(-103,202)"/><use href="#vh" transform="translate(-32,215)"/><use href="#vh" transform="translate(-146,225)"/><use href="#vh" transform="translate(-115,275)"/>
</g>
<!-- main gearbox housing front -->
<path d="M400,592 L420,752 L600,778 L848,1000 L868,1140 Q870,1175 835,1172 L482,1132 Q450,1126 440,1095 L378,745 Z" fill="#fff" stroke="#000" stroke-width="6"/>
<path d="M392,640 L372,745 L432,1098 Q444,1132 480,1140 L832,1182 Q872,1185 874,1150 M385,690 L366,748 L425,1102 Q438,1140 478,1148 L700,1175" fill="none" stroke="#000" stroke-width="5"/>
<path d="M400,592 L378,745 L440,1095 Q450,1126 482,1132 L835,1172" fill="none" stroke="#000" stroke-width="9"/>
<!-- bottom adaptor block -->
<path d="M290,1215 L430,1118 Q450,1140 480,1146 L835,1182 Q868,1186 868,1195 L700,1296 L505,1268 L312,1252 Z" fill="#fff" stroke="#000" stroke-width="6"/>
<path d="M652,1162 L508,1266 M300,1232 L322,1240 M866,1165 L866,1195" fill="none" stroke="#000" stroke-width="5.5"/>
<g fill="#fff" stroke="#000" stroke-width="5.5"><ellipse cx="527" cy="1175" rx="17" ry="10"/><ellipse cx="497" cy="1232" rx="17" ry="10"/><ellipse cx="600" cy="1247" rx="17" ry="10"/><ellipse cx="710" cy="1197" rx="17" ry="10"/></g>
<!-- bracket plate -->
<path d="M205,545 L310,545 L375,498 L385,592 L400,592 L378,745 L440,1095 L290,1215 L215,850 L235,715 Z" fill="#fff" stroke="#000" stroke-width="6"/>
<path d="M225,602 L388,512 M236,715 L390,600 M215,850 L378,745 M310,545 L302,560" fill="none" stroke="#000" stroke-width="5.5"/>
<g fill="#fff" stroke="#000" stroke-width="6"><ellipse cx="270" cy="608" rx="11" ry="15"/><ellipse cx="340" cy="557" rx="10" ry="14"/><ellipse cx="268" cy="745" rx="11" ry="15"/><ellipse cx="340" cy="692" rx="11" ry="15"/><ellipse cx="345" cy="878" rx="11" ry="15"/><ellipse cx="275" cy="930" rx="11" ry="15"/><ellipse cx="375" cy="1035" rx="11" ry="15"/><ellipse cx="303" cy="1088" rx="11" ry="15"/></g>
</g>
<!-- ===== tube (px coords) ===== -->
<path d="M640.4,202.8 L838.7,59.7 L882,114.1 L698.4,251.9 C690,258 682,262 676,261.9 C655,262 637,250 631,228 C629,218 632,209 640.4,202.8 Z" fill="#fff" stroke="#000" stroke-width="1.4" stroke-linejoin="round"/>
<path d="M644,206 C637,212 635,220 637,229 C642,247 657,257 676,257" fill="none" stroke="#000" stroke-width="1.1"/>
<circle cx="645" cy="219" r="1.8" fill="#000"/>
<!-- hex plug near housing -->
<g transform="translate(520,20) scale(0.22293)" stroke-linejoin="round">
<path d="M700,1040 L722,1022 L760,1020 L778,1035 L776,1060 Q740,1085 705,1065Z" fill="#fff" stroke="#000" stroke-width="6"/><path d="M700,1040 Q740,1060 778,1035 M722,1022 L728,1052 M760,1020 L756,1050" fill="none" stroke="#000" stroke-width="5"/>
<!-- housing bolts -->
<g fill="#fff" stroke="#000" stroke-width="5.5"><circle cx="448" cy="778" r="38"/><circle cx="458" cy="772" r="24"/><circle cx="495" cy="1062" r="38"/><circle cx="505" cy="1056" r="24"/><circle cx="838" cy="1108" r="38"/><circle cx="848" cy="1102" r="24"/></g>
<g fill="none" stroke="#000" stroke-width="5"><path d="M445,765 l13,-8 l13,8 v14 l-13,8 l-13,-8z M492,1049 l13,-8 l13,8 v14 l-13,8 l-13,-8z M835,1095 l13,-8 l13,8 v14 l-13,8 l-13,-8z"/></g>
</g>
<!-- ===== top end, z2 coords: offset (760,0) scale 1/7.625 ===== -->
<g transform="translate(760,0) scale(0.13115)" stroke-linejoin="round" stroke-linecap="round">
<!-- plug on tube -->
<path d="M598,1022 Q600,995 660,990 Q720,990 726,1010 L715,1045 L712,1090 Q680,1120 640,1100 L636,1060Z" fill="#fff" stroke="#000" stroke-width="10"/>
<path d="M598,1022 Q640,1050 726,1010 M615,1035 L625,1060 L715,1045 M640,1075 Q675,1095 710,1072" fill="none" stroke="#000" stroke-width="9"/>
<!-- end flange -->
<ellipse cx="778" cy="662" rx="207" ry="282" transform="rotate(-35.8 778 662)" fill="#fff" stroke="#000" stroke-width="10"/>
<ellipse cx="808" cy="640" rx="202" ry="275" transform="rotate(-35.8 808 640)" fill="#fff" stroke="#000" stroke-width="10"/>
<g fill="#fff" stroke="#000" stroke-width="8"><ellipse cx="712" cy="438" rx="14" ry="16"/><ellipse cx="633" cy="623" rx="14" ry="16"/><ellipse cx="798" cy="825" rx="14" ry="16"/><ellipse cx="983" cy="765" rx="14" ry="16"/></g>
<!-- rod -->
<path d="M710,520 L985,325 L1160,570 L900,750 C850,790 760,770 710,690 C670,620 670,560 710,520Z" fill="#fff" stroke="#000" stroke-width="10"/>
</g>
<!-- clevis: zoom (860,0) scale 1/7.696 -->
<g transform="translate(860,0) scale(0.12994)" stroke-linejoin="round" stroke-linecap="round" fill="#fff" stroke="#000" stroke-width="9">
<!-- lower block -->
<path d="M228,515 L375,365 L690,435 L685,465 L660,505 L525,605 Z"/>
<path d="M240,498 L372,392 L668,465 M375,365 L372,392" fill="none"/>
<!-- far ear -->
<path d="M603,250 L603,420 L640,440 L800,300 L795,270 L770,255 Z"/>
<path d="M603,420 L612,428 L790,285" fill="none" stroke-width="8"/>
<!-- pin -->
<path d="M640,150 L745,188 L725,272 L615,235 Z"/>
<ellipse cx="758" cy="212" rx="36" ry="88" transform="rotate(-14 758 212)"/>
<ellipse cx="768" cy="214" rx="28" ry="76" transform="rotate(-14 768 214)" stroke-width="7"/>
<ellipse cx="812" cy="232" rx="30" ry="76" transform="rotate(-14 812 232)"/>
<ellipse cx="852" cy="252" rx="22" ry="55" transform="rotate(-14 852 252)"/>
<ellipse cx="715" cy="272" rx="32" ry="38" transform="rotate(-14 715 272)"/>
<!-- near ear -->
<path d="M405,355 L560,232 L605,250 L445,378 Z"/>
<path d="M500,330 L545,350 L585,300 L575,268" fill="none" stroke-width="12"/>
<ellipse cx="548" cy="300" rx="26" ry="30" fill="#000"/>
<!-- front face -->
<path d="M228,205 L358,105 L405,128 L380,365 L240,500 L228,515 Z"/>
<path d="M245,218 L245,492 M358,105 L375,365" fill="none" stroke-width="7"/>
<!-- ring + nut -->
<ellipse cx="598" cy="160" rx="42" ry="92" transform="rotate(-16 598 160)" stroke-width="14"/>
<ellipse cx="540" cy="150" rx="105" ry="80" transform="rotate(20 540 150)" stroke-width="11"/>
<path d="M440,130 L470,85 L540,75 L585,110 L580,175 L545,215 L480,205 Z" stroke-width="11"/>
<path d="M470,85 L500,130 L495,200 M540,75 L545,125 L545,215 M500,130 L545,125" fill="none" stroke-width="10"/>
<ellipse cx="468" cy="148" rx="34" ry="48" transform="rotate(18 468 148)" stroke-width="11"/><ellipse cx="462" cy="148" rx="18" ry="30" transform="rotate(18 462 148)" stroke-width="9"/>
<!-- 4 bolts -->
<g stroke-width="9"><ellipse cx="272" cy="258" rx="40" ry="44"/><ellipse cx="355" cy="198" rx="40" ry="44"/><ellipse cx="272" cy="392" rx="40" ry="44"/><ellipse cx="355" cy="328" rx="40" ry="44"/>
<ellipse cx="255" cy="256" rx="24" ry="32" stroke-width="11"/><ellipse cx="338" cy="196" rx="24" ry="32" stroke-width="11"/><ellipse cx="255" cy="390" rx="24" ry="32" stroke-width="11"/><ellipse cx="338" cy="326" rx="24" ry="32" stroke-width="11"/>
<ellipse cx="252" cy="256" rx="9" ry="14" fill="#000"/><ellipse cx="335" cy="196" rx="9" ry="14" fill="#000"/><ellipse cx="252" cy="390" rx="9" ry="14" fill="#000"/><ellipse cx="335" cy="326" rx="9" ry="14" fill="#000"/></g>
</g>
</g>
<use href="#act5" transform="translate(1977 0) scale(-1 1)"/>

<!-- act_mid -->
<g id="act6">
<g transform="translate(225,560) scale(0.15992)" stroke-linejoin="round" stroke-linecap="round">
<!-- disc behind housing -->
<path d="M485,350 Q560,200 790,155 Q880,150 960,200 L700,420Z" fill="#fff" stroke="#000" stroke-width="8"/>
<path d="M500,340 Q580,215 790,170" fill="none" stroke="#000" stroke-width="7"/>
<!-- gearbox housing -->
<path d="M660,345 L1160,185 Q1212,185 1225,238 L1300,505 L1300,620 L860,620 L690,470Z" fill="#fff" stroke="#000" stroke-width="8"/>
<path d="M1160,185 Q1212,185 1225,238 L1300,505" fill="none" stroke="#000" stroke-width="13"/>
<path d="M1212,230 L1290,510" fill="none" stroke="#000" stroke-width="6"/>
<!-- top plate strip -->
<path d="M570,300 L1065,130 L1090,132 L1165,183 L650,345 Z" fill="#fff" stroke="#000" stroke-width="8"/>
<path d="M650,345 L1165,183" fill="none" stroke="#000" stroke-width="13"/>
<path d="M1065,130 L1150,180 M640,330 L575,305" fill="none" stroke="#000" stroke-width="7"/>
<!-- bridging bracket -->
<path d="M375,462 L480,368 L570,300 L650,345 L545,420 L455,500 Z" fill="#fff" stroke="#000" stroke-width="8"/>
<path d="M650,345 L545,420 L455,500" fill="none" stroke="#000" stroke-width="13"/>
<g fill="#fff" stroke="#000" stroke-width="8">
<ellipse cx="742" cy="252" rx="20" ry="12" transform="rotate(-20 742 252)"/><ellipse cx="785" cy="274" rx="20" ry="12" transform="rotate(-20 785 274)"/><ellipse cx="968" cy="178" rx="20" ry="12" transform="rotate(-20 968 178)"/><ellipse cx="1010" cy="200" rx="20" ry="12" transform="rotate(-20 1010 200)"/>
<ellipse cx="483" cy="385" rx="14" ry="20" transform="rotate(-30 483 385)"/><ellipse cx="525" cy="407" rx="14" ry="20" transform="rotate(-30 525 407)"/>
</g>
<!-- housing bolts -->
<g fill="#fff" stroke="#000" stroke-width="7"><circle cx="748" cy="410" r="50"/><circle cx="750" cy="410" r="36"/><circle cx="1155" cy="272" r="50"/><circle cx="1157" cy="272" r="36"/></g>
<path d="M730,400 l20,-12 l20,12 v22 l-20,12 l-20,-12z M1137,262 l20,-12 l20,12 v22 l-20,12 l-20,-12z" fill="none" stroke="#000" stroke-width="6"/>
<!-- tube -->
<path d="M840,520 Q880,395 1040,395 Q1080,398 1110,415 L1600,672 L1380,1060 L1060,892 L900,700Z" fill="#fff" stroke="#000" stroke-width="8"/>
<circle cx="995" cy="425" r="3" fill="#000"/><circle cx="1012" cy="422" r="3" fill="#000"/>
<!-- end flange -->
<ellipse cx="1492" cy="895" rx="178" ry="222" transform="rotate(-8 1492 895)" fill="#fff" stroke="#000" stroke-width="9"/>
<ellipse cx="1512" cy="890" rx="172" ry="215" transform="rotate(-8 1512 890)" fill="#fff" stroke="#000" stroke-width="8"/>
<ellipse cx="1535" cy="900" rx="118" ry="130" fill="#fff" stroke="#000" stroke-width="8"/>
<g fill="#fff" stroke="#000" stroke-width="7"><circle cx="1590" cy="725" r="11"/><circle cx="1392" cy="800" r="11"/><circle cx="1398" cy="1015" r="11"/></g>
<!-- clevis -->
<path d="M1460,900 L1520,865 L1730,750 L1750,775 L1870,1035 L1740,1110 L1660,1165 L1615,1160 Z" fill="#fff" stroke="#000" stroke-width="8"/>
<path d="M1460,900 L1615,1160 M1490,905 L1640,1165 M1520,880 L1665,1150 M1730,775 L1860,1040 M1700,790 L1830,1060" fill="none" stroke="#000" stroke-width="7"/>
<path d="M1560,900 L1600,935 Q1680,960 1760,900 L1740,860" fill="#fff" stroke="#000" stroke-width="8"/>
<path d="M1650,1095 L1720,1060 L1835,1040 L1840,1080 L1740,1130 L1665,1145Z" fill="#fff" stroke="#000" stroke-width="8"/>
<path d="M1640,960 L1700,1075 M1760,915 L1810,1020" fill="none" stroke="#000" stroke-width="8"/>
<!-- bolts on clevis -->
<g fill="#fff" stroke="#000" stroke-width="8"><ellipse cx="1550" cy="868" rx="40" ry="24" transform="rotate(-28 1550 868)"/><ellipse cx="1655" cy="812" rx="40" ry="24" transform="rotate(-28 1655 812)"/>
<path d="M1515,885 L1535,920 Q1575,925 1600,885 L1585,850 M1620,828 L1640,868 Q1685,870 1705,830 L1690,795"/></g>
<path d="M1520,862 L1575,835 M1625,806 L1680,780" stroke="#000" stroke-width="18" fill="none"/><path d="M1690,990 L1720,1050 M1660,1000 L1685,1045" stroke="#000" stroke-width="14" fill="none"/>
<!-- threaded end -->
<path d="M1750,1135 L1840,1095 L1858,1150 L1850,1185 Q1810,1215 1775,1195 L1760,1165Z" fill="#fff" stroke="#000" stroke-width="8"/>
<path d="M1755,1150 Q1805,1165 1855,1130 M1762,1170 Q1810,1185 1855,1155 M1775,1190 Q1815,1200 1850,1178" fill="none" stroke="#000" stroke-width="7"/>
<!-- motor box: foot -->
<path d="M610,1270 Q660,1305 720,1275 L715,1255Z" fill="#fff" stroke="#000" stroke-width="7"/>
<!-- motor box right face -->
<path d="M510,725 L962,590 L1108,1075 Q1112,1095 1095,1102 L660,1265 Z" fill="#fff" stroke="#000" stroke-width="8"/>
<g fill="#fff" stroke="#000" stroke-width="8"><circle cx="555" cy="782" r="22"/><circle cx="883" cy="675" r="22"/><circle cx="1000" cy="1078" r="22"/><circle cx="672" cy="1187" r="22"/></g>
<!-- strip -->
<path d="M388,745 L510,725 L660,1265 L600,1285 L545,1288 Z" fill="#fff" stroke="#000" stroke-width="8"/>
<!-- left face -->
<path d="M68,565 L388,745 L545,1288 L228,1112 Z" fill="#fff" stroke="#000" stroke-width="8"/>
<g fill="#000"><ellipse cx="128" cy="660" rx="10" ry="20" transform="rotate(-15 128 660)"/><ellipse cx="360" cy="790" rx="10" ry="20" transform="rotate(-15 360 790)"/><ellipse cx="243" cy="1060" rx="10" ry="20" transform="rotate(-15 243 1060)"/><ellipse cx="478" cy="1190" rx="10" ry="20" transform="rotate(-15 478 1190)"/><circle cx="218" cy="930" r="4"/></g>
<!-- logo -->
<path d="M222,735 L300,810 L400,1120 L330,1075 L365,1090 L295,880 L262,850 L300,975 L285,965 Z" fill="none" stroke="#000" stroke-width="7"/>
<path d="M245,790 L300,960 L345,1000 L285,815Z M290,985 L340,1075 L370,1090 L320,1000Z" fill="#555" stroke="#000" stroke-width="5"/>
<!-- top face -->
<path d="M68,562 Q75,548 150,525 L660,437 L962,590 L430,740 Q400,745 385,738 Z" fill="#fff" stroke="#000" stroke-width="8"/>
<path d="M72,568 L388,742 Q410,748 435,742 L962,592" fill="none" stroke="#000" stroke-width="16"/>
<path d="M80,556 L392,725 Q410,730 432,726 L940,582 M660,437 L962,590" fill="none" stroke="#000" stroke-width="6"/>
<path d="M660,440 L940,583" fill="none" stroke="#000" stroke-width="12"/>
<!-- strap on top -->
<path d="M235,502 L375,462 L455,500 L310,545 Z" fill="#fff" stroke="#000" stroke-width="8"/>
<g fill="#fff" stroke="#000" stroke-width="8"><ellipse cx="296" cy="492" rx="18" ry="12" transform="rotate(-15 296 492)"/><ellipse cx="338" cy="516" rx="18" ry="12" transform="rotate(-15 338 516)"/>
<ellipse cx="140" cy="535" rx="16" ry="9" transform="rotate(-15 140 535)"/><ellipse cx="305" cy="622" rx="16" ry="9" transform="rotate(-15 305 622)"/><ellipse cx="465" cy="712" rx="16" ry="9" transform="rotate(-15 465 712)"/><ellipse cx="590" cy="466" rx="16" ry="9" transform="rotate(-15 590 466)"/><ellipse cx="845" cy="588" rx="16" ry="9" transform="rotate(-15 845 588)"/></g>
<!-- vents blob -->
<g fill="#000" transform="rotate(-14 550 575)">
<path id="vb" d="M0,0 h44 l8,10 l-8,10 h-44 l-8,-10z" transform="translate(330,560)"/>
<use href="#vb" transform="translate(75,-22)"/><use href="#vb" transform="translate(150,-44)"/><use href="#vb" transform="translate(225,-22)"/><use href="#vb" transform="translate(300,-44)"/><use href="#vb" transform="translate(375,-22)"/>
<use href="#vb" transform="translate(110,0)"/><use href="#vb" transform="translate(185,-18)"/><use href="#vb" transform="translate(260,0)"/><use href="#vb" transform="translate(335,-18)"/><use href="#vb" transform="translate(400,0)"/>
<use href="#vb" transform="translate(40,24)"/><use href="#vb" transform="translate(115,26)"/><use href="#vb" transform="translate(190,8)"/><use href="#vb" transform="translate(265,26)"/><use href="#vb" transform="translate(340,8)"/>
<use href="#vb" transform="translate(80,50)"/><use href="#vb" transform="translate(155,46)"/><use href="#vb" transform="translate(230,50)"/><use href="#vb" transform="translate(310,34)"/><use href="#vb" transform="translate(120,72)"/><use href="#vb" transform="translate(200,70)"/>
</g>
</g>
</g>
<use href="#act6" transform="translate(1977 0) scale(-1 1)"/>

<!-- act_bot -->
<g id="act1">
<!-- base flange disc + hub: zoom (690,1200) scale 1/10.893 -->
<g transform="translate(690,1200) scale(0.0918)" stroke-linejoin="round" stroke-linecap="round" fill="#fff" stroke="#000" stroke-width="13">
<ellipse cx="830" cy="1025" rx="618" ry="398" transform="rotate(-14 830 1025)"/>
<ellipse cx="830" cy="990" rx="615" ry="395" transform="rotate(-14 830 990)"/>
<g stroke-width="12">
<path d="M373,905 v40 a62,45 0 0 0 124,0 v-40 M413,1155 v40 a62,45 0 0 0 124,0 v-40 M783,1185 v40 a62,45 0 0 0 124,0 v-40 M1123,965 v40 a62,45 0 0 0 124,0 v-40 M1088,720 v40 a62,45 0 0 0 124,0 v-40"/>
<ellipse cx="435" cy="905" rx="62" ry="45"/><ellipse cx="475" cy="1155" rx="62" ry="45"/><ellipse cx="845" cy="1185" rx="62" ry="45"/><ellipse cx="1185" cy="965" rx="62" ry="45"/><ellipse cx="1150" cy="720" rx="62" ry="45"/>
<ellipse cx="435" cy="903" rx="30" ry="20"/><ellipse cx="475" cy="1153" rx="30" ry="20"/><ellipse cx="845" cy="1183" rx="30" ry="20"/><ellipse cx="1185" cy="963" rx="30" ry="20"/><ellipse cx="1150" cy="718" rx="30" ry="20"/>
</g>
<path d="M500,900 Q520,1040 640,1110 Q740,1160 820,1130 L760,1040 L700,830 Z" stroke-width="12"/>
<path d="M545,1010 Q620,1100 790,1130" fill="none" stroke-width="28" stroke-dasharray="20 12"/>
<path d="M890,470 L950,440 L1085,790 Q1100,880 1080,930 L1040,900 Q900,1060 760,1040 L700,830 L640,680 L700,640 Z" stroke-width="13"/>
<path d="M950,440 L1000,600 L1090,800 M640,680 L760,1040 M670,660 L790,1030 M720,830 Q900,860 1000,760 M740,960 Q920,960 1030,850 M750,1000 Q930,1010 1040,900 M735,900 Q800,940 820,980 M700,830 Q760,800 800,830" fill="none" stroke-width="12"/>
<path d="M450,780 L520,860 L590,870 L600,800 L560,760 Z" stroke-width="12"/>
<path d="M500,760 Q560,800 620,760 M510,790 Q560,830 610,800" fill="none" stroke-width="12"/>
<circle cx="835" cy="690" r="128" stroke-width="22"/><circle cx="838" cy="690" r="82" stroke-width="13"/><ellipse cx="838" cy="688" rx="40" ry="55" transform="rotate(25 838 688)" stroke-width="12"/>
<path d="M800,640 L880,740 M790,700 L870,660" fill="none" stroke-width="11"/>
<path d="M880,470 L930,560 M940,470 L985,560" fill="none" stroke-width="13"/>
</g>
<!-- ===== lower body, z coords: offset (515,1020) scale 1/4.919 ===== -->
<g transform="translate(515,1020) scale(0.2033)" stroke-linejoin="round" stroke-linecap="round">
<!-- tube lower part -->
<path d="M843.6,-30 L1150,640 Q1175,720 1100,790 Q1020,860 900,855 L760,640 L460,-30" fill="#fff" stroke="#000" stroke-width="6"/>
<path d="M1138,650 Q1155,720 1090,775 Q1010,840 905,835" fill="none" stroke="#000" stroke-width="5"/>
<circle cx="1046" cy="720" r="8" fill="#000"/>
<path d="M1060,490 L1088,480 L1118,540 L1095,555Z" fill="#fff" stroke="#000" stroke-width="5.5"/>
<!-- feet -->
<path d="M1360,1020 L1365,1050 Q1390,1075 1415,1050 L1410,1010Z" fill="#fff" stroke="#000" stroke-width="5.5"/><path d="M1362,1035 Q1390,1050 1412,1030" fill="none" stroke="#000" stroke-width="5"/>
<!-- gearbox housing: top face -->
<path d="M900,850 L1120,590 L1310,700 Q1330,715 1322,735 L985,978 L940,958Z" fill="#fff" stroke="#000" stroke-width="6"/>
<!-- right face -->
<path d="M985,978 L1322,730 L1432,955 L1428,975 L1092,1205 Z" fill="#fff" stroke="#000" stroke-width="6"/>
<path d="M1300,715 L1410,950 L1428,975" fill="none" stroke="#000" stroke-width="5"/>
<!-- left small face -->
<path d="M795,1065 L985,978 L1092,1205 L900,1300 Z" fill="#fff" stroke="#000" stroke-width="6"/>
<path d="M800,1050 L940,958 L985,978 M795,1065 L800,1050" fill="#fff" stroke="#000" stroke-width="5.5"/>
<path d="M985,978 L1322,730" fill="none" stroke="#000" stroke-width="10"/>
<g fill="#000"><circle cx="1258" cy="862" r="17"/><circle cx="1110" cy="968" r="17"/><circle cx="1305" cy="968" r="17"/><circle cx="1155" cy="1075" r="17"/><circle cx="915" cy="1085" r="17"/><circle cx="962" cy="1190" r="17"/></g>
<g fill="#fff"><circle cx="1262" cy="858" r="7"/><circle cx="1114" cy="964" r="7"/><circle cx="1309" cy="964" r="7"/><circle cx="1159" cy="1071" r="7"/><circle cx="919" cy="1081" r="7"/><circle cx="966" cy="1186" r="7"/></g>
<!-- bolts on housing top -->
<g fill="#fff" stroke="#000" stroke-width="5.5"><ellipse cx="1245" cy="712" rx="40" ry="36"/><ellipse cx="1245" cy="700" rx="36" ry="26"/><ellipse cx="975" cy="912" rx="40" ry="36"/><ellipse cx="975" cy="900" rx="36" ry="26"/></g>
<path d="M1225,698 l18,-10 l20,8 l-4,14 l-20,6z M955,898 l18,-10 l20,8 l-4,14 l-20,6z" fill="none" stroke="#000" stroke-width="5"/>
<!-- motor box: left side face -->
<path d="M58,400 L310,560 L705,1405 Q690,1410 440,1255 Z" fill="#fff" stroke="#000" stroke-width="6"/>
<path d="M445,1262 L700,1420 Q740,1440 770,1425" fill="none" stroke="#000" stroke-width="5"/>
<g fill="#000"><ellipse cx="140" cy="545" rx="10" ry="17" transform="rotate(-25 140 545)"/><ellipse cx="318" cy="652" rx="10" ry="17" transform="rotate(-25 318 652)"/><ellipse cx="425" cy="1180" rx="10" ry="17" transform="rotate(-25 425 1180)"/><ellipse cx="598" cy="1275" rx="10" ry="17" transform="rotate(-25 598 1275)"/></g>
<!-- logo diamonds -->
<path d="M265,770 L385,835 L440,960 L410,945 L420,995 L330,940 Z M338,850 L400,855 L395,905 L375,935 L330,880Z M425,985 L470,1000 L490,1065 L445,1040Z" fill="none" stroke="#000" stroke-width="6"/>
<path d="M275,790 L335,925 L400,970 M432,1000 L455,1040" fill="none" stroke="#000" stroke-width="5"/>
<!-- cap top face -->
<path d="M58,400 Q45,355 100,305 L385,100 Q400,92 420,103 L632,245 L315,470 L310,560 Z" fill="#fff" stroke="#000" stroke-width="6"/>
<path d="M100,305 L330,462" fill="none" stroke="#000" stroke-width="5"/>
<g fill="#fff" stroke="#000" stroke-width="6"><ellipse cx="363" cy="158" rx="17" ry="11" transform="rotate(-20 363 158)"/><ellipse cx="545" cy="268" rx="17" ry="11" transform="rotate(-20 545 268)"/><ellipse cx="148" cy="315" rx="17" ry="11" transform="rotate(-20 148 315)"/><ellipse cx="328" cy="425" rx="17" ry="11" transform="rotate(-20 328 425)"/></g>
<!-- right side strip of motor box -->
<path d="M632,250 L690,400 L940,958 L900,850 Z" fill="#fff" stroke="#000" stroke-width="5.5"/>
<!-- vent face -->
<path d="M312,565 Q290,500 345,468 L620,262 L940,955 L800,1050 L740,1110 L810,1370 Q760,1440 700,1405 Z" fill="#fff" stroke="#000" stroke-width="6.5"/>
<path d="M312,565 Q290,500 345,468 L620,262" fill="none" stroke="#000" stroke-width="11"/>
<path d="M312,565 L700,1405" fill="none" stroke="#000" stroke-width="9"/>
<path d="M325,560 Q306,506 352,478 L628,275 M328,575 L712,1400" fill="none" stroke="#000" stroke-width="5"/>
<g fill="#000"><circle cx="352" cy="517" r="18"/><circle cx="598" cy="338" r="18"/><circle cx="545" cy="945" r="18"/><circle cx="855" cy="965" r="18"/><circle cx="740" cy="1380" r="18"/><circle cx="815" cy="1275" r="17"/></g>
<g fill="#fff"><circle cx="355" cy="514" r="8"/><circle cx="601" cy="335" r="8"/><circle cx="548" cy="942" r="8"/><circle cx="858" cy="962" r="8"/><circle cx="743" cy="1377" r="8"/><circle cx="818" cy="1272" r="7"/></g>
<!-- lower-left strip lines -->
<path d="M740,1110 L795,1065 L900,1300 L810,1370 M900,1300 L1092,1205" fill="none" stroke="#000" stroke-width="6"/>
<path d="M812,1380 L905,1310 L1095,1215" fill="none" stroke="#000" stroke-width="5"/>
<!-- vent cubes -->
<g fill="#fff" stroke="#000" stroke-width="7">
<path id="vc" d="M-26,-8 L-6,-26 L22,-18 L26,12 L6,30 L-20,22Z M-26,-8 L0,0 L22,-18 M0,0 L6,30" transform="translate(632,495)"/>
<use href="#vc" transform="translate(-42,68)"/><use href="#vc" transform="translate(25,62)"/><use href="#vc" transform="translate(-82,138)"/><use href="#vc" transform="translate(55,122)"/>
<use href="#vc" transform="translate(-122,208)"/><use href="#vc" transform="translate(-55,195)"/><use href="#vc" transform="translate(12,192)"/><use href="#vc" transform="translate(82,180)"/>
<use href="#vc" transform="translate(-95,268)"/><use href="#vc" transform="translate(40,252)"/>
<use href="#vc" transform="translate(-70,330)"/><use href="#vc" transform="translate(0,318)"/><use href="#vc" transform="translate(68,312)"/><use href="#vc" transform="translate(135,305)"/>
<use href="#vc" transform="translate(-40,392)"/><use href="#vc" transform="translate(28,382)"/><use href="#vc" transform="translate(95,372)"/><use href="#vc" transform="translate(55,445)"/><use href="#vc" transform="translate(15,518)"/>
</g>
</g>
<!-- ===== upper part, z2 coords: offset (500,760) scale 1/5.4455 ===== -->
<g transform="translate(500,760) scale(0.18364)" stroke-linejoin="round" stroke-linecap="round">
<!-- tube upper -->
<path d="M655,1535 L345,870 L690,670 L1085,1535" fill="#fff" stroke="#000" stroke-width="6.5"/>
<!-- flange -->
<ellipse cx="512" cy="778" rx="190" ry="122" transform="rotate(-20 512 778)" fill="#fff" stroke="#000" stroke-width="7"/>
<ellipse cx="508" cy="752" rx="188" ry="118" transform="rotate(-20 508 752)" fill="#fff" stroke="#000" stroke-width="6.5"/>
<g fill="#fff" stroke="#000" stroke-width="6"><ellipse cx="648" cy="663" rx="11" ry="8"/><ellipse cx="360" cy="752" rx="11" ry="8"/><ellipse cx="597" cy="783" rx="11" ry="8"/><ellipse cx="420" cy="838" rx="11" ry="8"/></g>
<circle cx="686" cy="662" r="7" fill="#000"/>
<!-- rod -->
<path d="M300,530 L490,440 L605,690 Q600,760 520,795 Q440,815 400,770 Z" fill="#fff" stroke="#000" stroke-width="6.5"/>
<!-- clevis block -->
<path d="M155,310 L180,282 L265,395 L300,537 L275,510 L210,440 Z" fill="#fff" stroke="#000" stroke-width="6.5"/>
<path d="M265,395 L430,295 L465,290 L520,415 L300,537 Z" fill="#fff" stroke="#000" stroke-width="6.5"/>
<path d="M430,295 L480,425 M385,460 L470,415 M375,500 Q420,500 450,460" fill="none" stroke="#000" stroke-width="6"/>
<!-- ears -->
<path d="M148,110 L180,282 L215,292 L235,270 L205,150Z" fill="#fff" stroke="#000" stroke-width="6.5"/>
<path d="M225,250 L265,395 L430,295 L350,185 L330,200Z" fill="#fff" stroke="#000" stroke-width="6.5"/>
<path d="M240,255 L275,385" fill="none" stroke="#000" stroke-width="6"/>
<!-- pin & nut -->
<ellipse cx="200" cy="105" rx="55" ry="60" transform="rotate(-20 200 105)" fill="#fff" stroke="#000" stroke-width="8"/>
<ellipse cx="215" cy="120" rx="32" ry="38" transform="rotate(-20 215 120)" fill="#fff" stroke="#000" stroke-width="7"/>
<ellipse cx="262" cy="178" rx="62" ry="52" transform="rotate(30 262 178)" fill="#fff" stroke="#000" stroke-width="14"/>
<ellipse cx="280" cy="200" rx="48" ry="40" transform="rotate(30 280 200)" fill="#fff" stroke="#000" stroke-width="12"/>
<ellipse cx="300" cy="222" rx="34" ry="30" transform="rotate(30 300 222)" fill="#fff" stroke="#000" stroke-width="8"/>
<ellipse cx="312" cy="235" rx="18" ry="17" fill="#fff" stroke="#000" stroke-width="6"/>
<path d="M280,85 Q310,90 300,110" fill="none" stroke="#000" stroke-width="6"/>
<!-- 4 bolts -->
<g fill="#fff" stroke="#000" stroke-width="7"><circle cx="314" cy="385" r="32"/><circle cx="405" cy="333" r="32"/><circle cx="350" cy="465" r="32"/><circle cx="442" cy="410" r="32"/></g>
<g fill="#fff" stroke="#000" stroke-width="10"><circle cx="318" cy="390" r="17"/><circle cx="409" cy="338" r="17"/><circle cx="354" cy="470" r="17"/><circle cx="446" cy="415" r="17"/></g><g fill="#000"><circle cx="318" cy="390" r="6"/><circle cx="409" cy="338" r="6"/><circle cx="354" cy="470" r="6"/><circle cx="446" cy="415" r="6"/></g>
</g>
</g>
<use href="#act1" transform="translate(1977 0) scale(-1 1)"/>

<!-- cables -->
<g id="cabL">
<path class="cab" d="M570,174 C470,180 405,215 406,266 C407,330 500,430 633,502"/>
<path class="cab" d="M267,640 C253,600 248,562 264,534 C281,506 316,503 346,507 C420,517 500,560 574,601"/>
<path class="cab" d="M926,1142 C926,1250 920,1430 836,1430 C780,1430 720,1350 684,1296"/>
</g>
<use href="#cabL" transform="translate(1977 0) scale(-1 1)"/>

<!-- overlay -->
<!-- dashed connectors -->
<path class="dash" d="M224,388 L672,574"/>
<path class="dash" d="M1776,231.5 C1730,222 1660,222 1600,238 C1530,258 1470,300 1420,350 L1279,577"/>
<path class="dash" d="M1109,1017 L1683,1280"/>
<!-- leaders -->
<path class="lead" d="M474.5,84 V144.5 H620"/><rect class="r" x="618.5" y="135.7" width="17.5" height="17.5"/>
<path class="lead" d="M1508,87 V146.3 H1362"/><rect class="r" x="1346.4" y="137.3" width="18" height="18"/>
<path class="lead" d="M150.4,756.7 V696.2 H297"/><rect class="r" x="294.8" y="687.5" width="17.5" height="17.5"/>
<path class="lead" d="M1805.4,756.8 V696.6 H1660"/><rect class="r" x="1643.8" y="687.7" width="18" height="18"/>
<path class="lead" d="M515,1317 V1256.7 H660"/><rect class="r" x="658.6" y="1247.7" width="18" height="18"/>
<path class="lead" d="M1454.5,1316 V1257.6 H1308"/><rect class="r" x="1292.3" y="1248.6" width="18" height="18"/>
<!-- REAR arrow -->
<polygon fill="#b81f25" points="304,846.5 330.5,886.8 355,872.4 438.6,1001.9 414,1017.6 440,1058.2 271,1017.6"/>
<text transform="translate(314.5,925) rotate(57.3)" font-size="39" font-weight="bold" fill="#fff" stroke="#fff" stroke-width="1" textLength="113" lengthAdjust="spacingAndGlyphs">REAR</text>
<!-- QS tags -->
<g transform="translate(987.85,1016.1)"><rect x="-121.5" y="-23.4" width="243" height="46.8" fill="#fff" stroke="#c00019" stroke-width="1.6"/><text x="-112.5" y="15.5" font-size="44.5" class="qs" textLength="225" lengthAdjust="spacingAndGlyphs">QS-SB2 #1</text></g>
<g transform="translate(703.15,591.2) rotate(-57.6)"><rect x="-121.5" y="-23.4" width="243" height="46.8" fill="#fff" stroke="#c00019" stroke-width="1.6"/><text x="-112.5" y="15.5" font-size="44.5" class="qs" textLength="225" lengthAdjust="spacingAndGlyphs">QS-SB2 #3</text></g>
<g transform="translate(1250.75,596) rotate(57.6)"><rect x="-121.5" y="-23.4" width="243" height="46.8" fill="#fff" stroke="#c00019" stroke-width="1.6"/><text x="-112.5" y="15.5" font-size="44.5" class="qs" textLength="225" lengthAdjust="spacingAndGlyphs">QS-SB2 #2</text></g>
<!-- Input panel -->
<g transform="translate(1626.15,405.1) rotate(57.45)"><rect x="-137.3" y="-27" width="274.6" height="54" fill="#fff" stroke="#000" stroke-width="1.4"/><text x="-128" y="14" font-size="52" class="lab" textLength="256" lengthAdjust="spacingAndGlyphs">Input panel</text></g>
<!-- labels -->
<text class="lab" x="0" y="102" font-size="48" textLength="285" lengthAdjust="spacingAndGlyphs">Actuator 5-6</text>
<text class="lab" x="358" y="68" font-size="48" textLength="234" lengthAdjust="spacingAndGlyphs">Actuator 5</text>
<text class="lab" x="1392" y="68" font-size="48" textLength="234" lengthAdjust="spacingAndGlyphs">Actuator 4</text>
<text class="lab" x="1717" y="99" font-size="48" textLength="282" lengthAdjust="spacingAndGlyphs">Actuator 3-4</text>
<text class="lab" x="33" y="806" font-size="48" textLength="237" lengthAdjust="spacingAndGlyphs">Actuator 6</text>
<text class="lab" x="1691" y="806" font-size="48" textLength="233" lengthAdjust="spacingAndGlyphs">Actuator 3</text>
<text class="lab" x="402" y="1367" font-size="48" textLength="230" lengthAdjust="spacingAndGlyphs">Actuator 1</text>
<text class="lab" x="1339" y="1367" font-size="48" textLength="233" lengthAdjust="spacingAndGlyphs">Actuator 2</text>
<text class="lab" x="1629" y="1148" font-size="48" textLength="274" lengthAdjust="spacingAndGlyphs">Actuator 1-2</text>

<!-- dips -->
<g transform="translate(61.2,125.6)">
<path d="M-8.2,-8.9 L169.1,-8.9" fill="none" stroke="#c00019" stroke-width="5.6" stroke-dasharray="17.30 18.55" stroke-dashoffset="-15.70"/>
<path d="M166.3,-11.7 L166.3,267.2" fill="none" stroke="#c00019" stroke-width="5.6" stroke-dasharray="17.30 18.55" stroke-dashoffset="2.85"/>
<path d="M-5.4,-11.7 L-5.4,267.2" fill="none" stroke="#c00019" stroke-width="5.6" stroke-dasharray="17.30 18.55" stroke-dashoffset="-2.10"/>
<path d="M-8.2,264.4 L169.1,264.4" fill="none" stroke="#c00019" stroke-width="5.6" stroke-dasharray="17.30 18.55" stroke-dashoffset="-10.50"/>
<rect x="163.5" y="-11.7" width="5.6" height="5.6" fill="#c00019"/>
<rect x="0" y="0" width="159.8" height="256" fill="#fff" stroke="#000" stroke-width="2.2"/>
<path d="M28.4,0 V133.9 H129.4 V0" fill="none" stroke="#000" stroke-width="1"/>
<rect x="28.4" y="0" width="38.4" height="109.2" fill="#fff" stroke="#555" stroke-width="1"/>
<rect x="28.9" y="69.5" width="37.4" height="39.4" fill="#ff8000"/>
<path d="M28.4,69.3 H67.8" stroke="#333" stroke-width="1"/>
<path d="M47.6,19.7 V42.5" stroke="#000" stroke-width="5.5" fill="none"/><polygon points="38.3,41.5 56.9,41.5 47.6,54.0" fill="#000"/>
<rect x="91.2" y="0" width="38.2" height="109.2" fill="#fff" stroke="#555" stroke-width="1"/>
<rect x="91.7" y="1" width="37.2" height="40" fill="#ff8000"/>
<path d="M90.2,41 H129.4" stroke="#7a4a10" stroke-width="1"/>
<path d="M110.3,89.7 V67.0" stroke="#000" stroke-width="5.5" fill="none"/><polygon points="101.0,68.0 119.6,68.0 110.3,55.4" fill="#000"/>
<path d="M66.8,45.9 H91.2" stroke="#333" stroke-width="1"/>
<path d="M41.5,148.6 H48.6 V179 H42.2 V156.2 L35.6,159.2 L33.6,154.2Z" fill="#000"/><text x="110.5" y="179" font-size="43" font-weight="bold" fill="#000" text-anchor="middle">2</text>
<text x="23.5" y="236.2" font-size="50" font-weight="bold" fill="#000" textLength="75" lengthAdjust="spacingAndGlyphs">ON</text>
<path d="M123.8,200.0 V222.7" stroke="#000" stroke-width="5.5" fill="none"/><polygon points="114.5,221.7 133.1,221.7 123.8,234.4" fill="#000"/>
</g>
<g transform="translate(1782.0,122.2)">
<path d="M-8.2,-8.9 L169.1,-8.9" fill="none" stroke="#c00019" stroke-width="5.6" stroke-dasharray="17.30 18.55" stroke-dashoffset="-15.70"/>
<path d="M166.3,-11.7 L166.3,267.2" fill="none" stroke="#c00019" stroke-width="5.6" stroke-dasharray="17.30 18.55" stroke-dashoffset="2.85"/>
<path d="M-5.4,-11.7 L-5.4,267.2" fill="none" stroke="#c00019" stroke-width="5.6" stroke-dasharray="17.30 18.55" stroke-dashoffset="-2.10"/>
<path d="M-8.2,264.4 L169.1,264.4" fill="none" stroke="#c00019" stroke-width="5.6" stroke-dasharray="17.30 18.55" stroke-dashoffset="-10.50"/>
<rect x="163.5" y="-11.7" width="5.6" height="5.6" fill="#c00019"/>
<rect x="0" y="0" width="159.8" height="256" fill="#fff" stroke="#000" stroke-width="2.2"/>
<path d="M28.4,0 V133.9 H129.4 V0" fill="none" stroke="#000" stroke-width="1"/>
<rect x="28.4" y="0" width="38.4" height="109.2" fill="#fff" stroke="#555" stroke-width="1"/>
<rect x="28.9" y="1" width="37.4" height="40" fill="#ff8000"/>
<path d="M27.4,41 H66.8" stroke="#7a4a10" stroke-width="1"/>
<path d="M47.6,89.7 V67.0" stroke="#000" stroke-width="5.5" fill="none"/><polygon points="38.3,68.0 56.9,68.0 47.6,55.4" fill="#000"/>
<rect x="91.2" y="0" width="38.2" height="109.2" fill="#fff" stroke="#555" stroke-width="1"/>
<rect x="91.7" y="69.5" width="37.2" height="39.4" fill="#ff8000"/>
<path d="M91.2,69.3 H130.4" stroke="#333" stroke-width="1"/>
<path d="M110.3,19.7 V42.5" stroke="#000" stroke-width="5.5" fill="none"/><polygon points="101.0,41.5 119.6,41.5 110.3,54.0" fill="#000"/>
<path d="M66.8,45.9 H91.2" stroke="#333" stroke-width="1"/>
<path d="M41.5,148.6 H48.6 V179 H42.2 V156.2 L35.6,159.2 L33.6,154.2Z" fill="#000"/><text x="110.5" y="179" font-size="43" font-weight="bold" fill="#000" text-anchor="middle">2</text>
<text x="23.5" y="236.2" font-size="50" font-weight="bold" fill="#000" textLength="75" lengthAdjust="spacingAndGlyphs">ON</text>
<path d="M123.8,200.0 V222.7" stroke="#000" stroke-width="5.5" fill="none"/><polygon points="114.5,221.7 133.1,221.7 123.8,234.4" fill="#000"/>
</g>
<g transform="translate(1690.2,1170.6)">
<path d="M-8.2,-8.9 L169.1,-8.9" fill="none" stroke="#c00019" stroke-width="5.6" stroke-dasharray="17.30 18.55" stroke-dashoffset="-15.70"/>
<path d="M166.3,-11.7 L166.3,267.2" fill="none" stroke="#c00019" stroke-width="5.6" stroke-dasharray="17.30 18.55" stroke-dashoffset="2.85"/>
<path d="M-5.4,-11.7 L-5.4,267.2" fill="none" stroke="#c00019" stroke-width="5.6" stroke-dasharray="17.30 18.55" stroke-dashoffset="-2.10"/>
<path d="M-8.2,264.4 L169.1,264.4" fill="none" stroke="#c00019" stroke-width="5.6" stroke-dasharray="17.30 18.55" stroke-dashoffset="-10.50"/>
<rect x="163.5" y="-11.7" width="5.6" height="5.6" fill="#c00019"/>
<rect x="0" y="0" width="159.8" height="256" fill="#fff" stroke="#000" stroke-width="2.2"/>
<path d="M28.4,0 V133.9 H129.4 V0" fill="none" stroke="#000" stroke-width="1"/>
<rect x="28.4" y="0" width="38.4" height="109.2" fill="#fff" stroke="#555" stroke-width="1"/>
<rect x="28.9" y="1" width="37.4" height="40" fill="#ff8000"/>
<path d="M27.4,41 H66.8" stroke="#7a4a10" stroke-width="1"/>
<path d="M47.6,89.7 V67.0" stroke="#000" stroke-width="5.5" fill="none"/><polygon points="38.3,68.0 56.9,68.0 47.6,55.4" fill="#000"/>
<rect x="91.2" y="0" width="38.2" height="109.2" fill="#fff" stroke="#555" stroke-width="1"/>
<rect x="91.7" y="1" width="37.2" height="40" fill="#ff8000"/>
<path d="M90.2,41 H129.4" stroke="#7a4a10" stroke-width="1"/>
<path d="M110.3,89.7 V67.0" stroke="#000" stroke-width="5.5" fill="none"/><polygon points="101.0,68.0 119.6,68.0 110.3,55.4" fill="#000"/>
<path d="M66.8,45.9 H91.2" stroke="#333" stroke-width="1"/>
<path d="M41.5,148.6 H48.6 V179 H42.2 V156.2 L35.6,159.2 L33.6,154.2Z" fill="#000"/><text x="110.5" y="179" font-size="43" font-weight="bold" fill="#000" text-anchor="middle">2</text>
<text x="23.5" y="236.2" font-size="50" font-weight="bold" fill="#000" textLength="75" lengthAdjust="spacingAndGlyphs">ON</text>
<path d="M123.8,200.0 V222.7" stroke="#000" stroke-width="5.5" fill="none"/><polygon points="114.5,221.7 133.1,221.7 123.8,234.4" fill="#000"/>
</g>
</svg>
</body></html>
